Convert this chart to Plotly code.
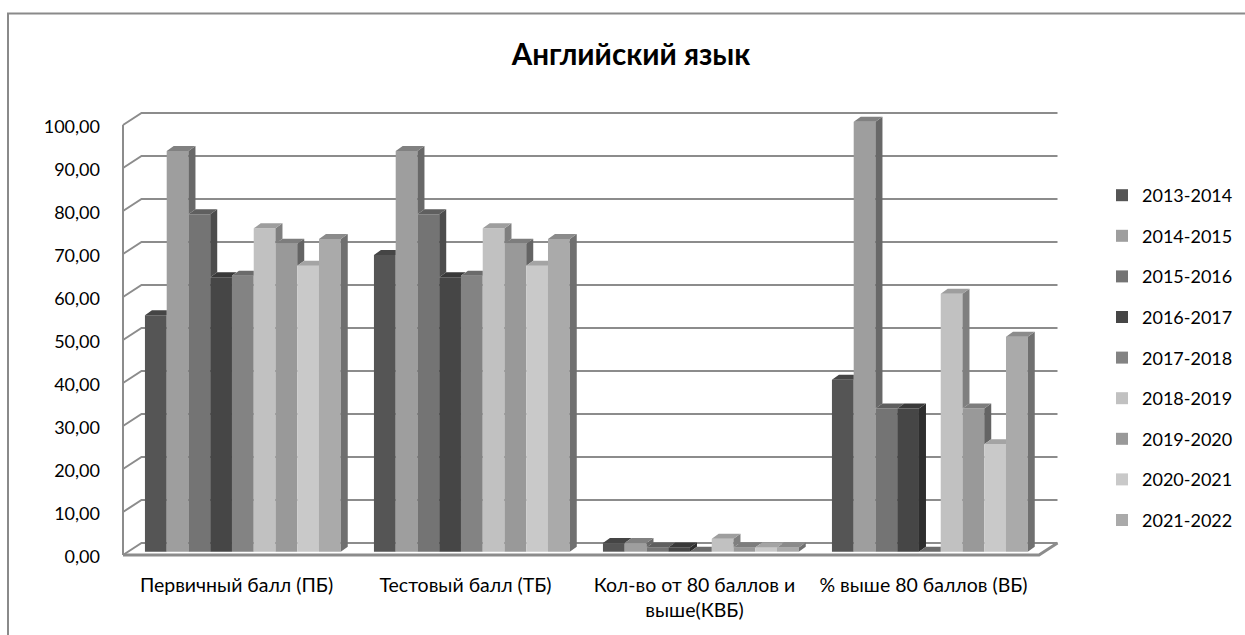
import plotly.graph_objects as go

# ---------------- data ----------------
years = ["2013-2014", "2014-2015", "2015-2016", "2016-2017", "2017-2018",
         "2018-2019", "2019-2020", "2020-2021", "2021-2022"]
categories = ["Первичный балл (ПБ)", "Тестовый балл (ТБ)",
              "Кол-во от 80 баллов и выше(КВБ)", "% выше 80 баллов (ВБ)"]
tick_labels = ["Первичный балл (ПБ)", "Тестовый балл (ТБ)",
               "Кол-во от 80 баллов и<br>выше(КВБ)", "% выше 80 баллов (ВБ)"]
# values per category, one per school year
pb = [55.0, 93.2, 78.5, 63.8, 64.2, 75.2, 71.6, 66.5, 72.7]
tb = [69.0, 93.2, 78.5, 63.8, 64.2, 75.2, 71.6, 66.5, 72.7]
kvb = [2.0, 2.0, 1.0, 1.0, 0.0, 3.0, 1.0, 1.0, 1.0]
vb = [40.0, 100.0, 33.33, 33.33, 0.0, 60.0, 33.33, 25.0, 50.0]
y_ticks = [0, 10, 20, 30, 40, 50, 60, 70, 80, 90, 100]

colors = ["#555555", "#9e9e9e", "#747474", "#464646", "#838383",
          "#c1c1c1", "#999999", "#c9c9c9", "#aaaaaa"]

values_by_cat = [pb, tb, kvb, vb]

# ---------------- geometry (pixels -> data) ----------------
W, H = 1245, 635
PLOT_L, PLOT_R, PLOT_T, PLOT_B = 122, 1060, 110, 558
CAT_PX = 229.0
X0_PX = 242.85      # pixel of first category centre (bar plane)
Y0_PX = 551.7       # pixel of value 0 at bar plane
UNIT_PX = 4.3       # pixels per value unit


def px2x(px):
    return (px - X0_PX) / CAT_PX


def px2y(py):
    return (Y0_PX - py) / UNIT_PX


BARGAP = 0.145
N = len(years)
GW = 1 - BARGAP
BW = GW / N
DX = 7.0 / CAT_PX   # bar depth (x)
DY = 5.0 / UNIT_PX  # bar depth (y)

# wall geometry
FRONT_L = px2x(123)
BACK_L = px2x(141.5)
BACK_R = px2x(1057.5)
FRONT_R = px2x(1039)
FRONT_DY = px2y(555)          # front plane offset (value units)
BACK_DY = px2y(543)           # back wall offset


def shade(hexc, f):
    r, g, b = int(hexc[1:3], 16), int(hexc[3:5], 16), int(hexc[5:7], 16)
    return "#%02x%02x%02x" % (int(r * f), int(g * f), int(b * f))


fig = go.Figure()

# front faces: real bars
for j, yr in enumerate(years):
    fig.add_trace(go.Bar(
        x=list(range(len(categories))),
        y=[vals[j] for vals in values_by_cat],
        name=yr, legendgroup=yr,
        marker=dict(color=colors[j], line=dict(width=0)),
    ))

# side and top faces (pseudo 3D), derived from the same values
for j, yr in enumerate(years):
    sx, sy, tx, ty = [], [], [], []
    for c, vals in enumerate(values_by_cat):
        v = vals[j]
        vn = vals[j + 1] if j + 1 < N else 0.0
        xl = c - GW / 2 + j * BW
        xr = xl + BW
        a = min(vn, v)
        if v - a > 1e-9:
            sx += [xr, xr + DX, xr + DX, xr, xr, None]
            sy += [a, a + DY, v + DY, v, a, None]
        cc = min(max(vn, v), v + DY)
        tx += [xl, xr, xr, xr + (v + DY - cc) * DX / DY, xl + DX, xl, None]
        ty += [v, v, cc, v + DY, v + DY, v, None]
    fig.add_trace(go.Scatter(x=sx, y=sy, mode="lines", fill="toself",
                             fillcolor=shade(colors[j], 0.66), line=dict(width=0),
                             hoverinfo="skip", showlegend=False))
    fig.add_trace(go.Scatter(x=tx, y=ty, mode="lines", fill="toself",
                             fillcolor=shade(colors[j], 0.82), line=dict(width=0),
                             hoverinfo="skip", showlegend=False))

GRID = "#8c8c8c"
shapes = []
# back wall gridlines with left-wall diagonals
for t in y_ticks:
    shapes.append(dict(type="path", xref="x", yref="y", layer="below",
                       path="M %f,%f L %f,%f L %f,%f" % (FRONT_L, t + FRONT_DY, BACK_L, t + BACK_DY,
                                                         BACK_R, t + BACK_DY),
                       line=dict(color=GRID, width=2)))
# left wall front edge
shapes.append(dict(type="line", xref="x", yref="y", layer="below",
                   x0=FRONT_L, x1=FRONT_L, y0=FRONT_DY, y1=y_ticks[-1] + FRONT_DY,
                   line=dict(color=GRID, width=2)))
# floor front edge and right diagonal
shapes.append(dict(type="path", xref="x", yref="y", layer="below",
                   path="M %f,%f L %f,%f L %f,%f" % (FRONT_L, FRONT_DY, FRONT_R, FRONT_DY, BACK_R, BACK_DY),
                   line=dict(color=GRID, width=3)))
# chart frame (top and left)
fx = (8 - PLOT_L) / (PLOT_R - PLOT_L)
fy_top = (PLOT_B - 13.5) / (PLOT_B - PLOT_T)
fy_bot = (PLOT_B - 640) / (PLOT_B - PLOT_T)
fx_r = (1250 - PLOT_L) / (PLOT_R - PLOT_L)
shapes.append(dict(type="path", xref="paper", yref="paper", layer="below",
                   path="M %f,%f L %f,%f L %f,%f" % (fx, fy_bot, fx, fy_top, fx_r, fy_top),
                   line=dict(color="#8a8a8a", width=2)))

FONT = "Lato, 'Open Sans', sans-serif"

fig.update_layout(
    width=W, height=H,
    margin=dict(l=PLOT_L, r=W - PLOT_R, t=PLOT_T, b=H - PLOT_B, autoexpand=False),
    paper_bgcolor="white", plot_bgcolor="rgba(0,0,0,0)",
    barmode="group", bargap=BARGAP, bargroupgap=0,
    font=dict(family=FONT, size=18, color="#000000"),
    title=dict(text="<b>Английский язык</b>", x=631 / W, xref="container", xanchor="center",
               y=1 - 55 / H, yref="container", yanchor="middle",
               font=dict(family=FONT, size=29.6, color="#000000")),
    xaxis=dict(range=[px2x(PLOT_L), px2x(PLOT_R)],
               tickvals=[px2x(PLOT_L + CAT_PX * (c + 0.5)) for c in range(len(categories))],
               ticktext=tick_labels, showgrid=False, zeroline=False, showline=False,
               ticks="", ticklabelstandoff=13, tickfont=dict(size=19.5)),
    yaxis=dict(range=[px2y(PLOT_B), px2y(PLOT_T)],
               tickvals=[t + px2y(557) for t in y_ticks],
               ticktext=[("%.2f" % t).replace(".", ",") for t in y_ticks],
               showgrid=False, zeroline=False, showline=False, ticks="",
               ticklabelstandoff=21, tickfont=dict(size=18)),
    legend=dict(xref="container", yref="container", x=1102 / W, y=1 - 177 / H,
                xanchor="left", yanchor="top", tracegroupgap=14.2, maxheight=600,
                font=dict(size=18), bgcolor="rgba(0,0,0,0)"),
    shapes=shapes,
    showlegend=True,
)

fig.write_html("out.html", config={"displayModeBar": False},
               post_script="document.body.style.margin='0';document.body.style.overflow='hidden';")
